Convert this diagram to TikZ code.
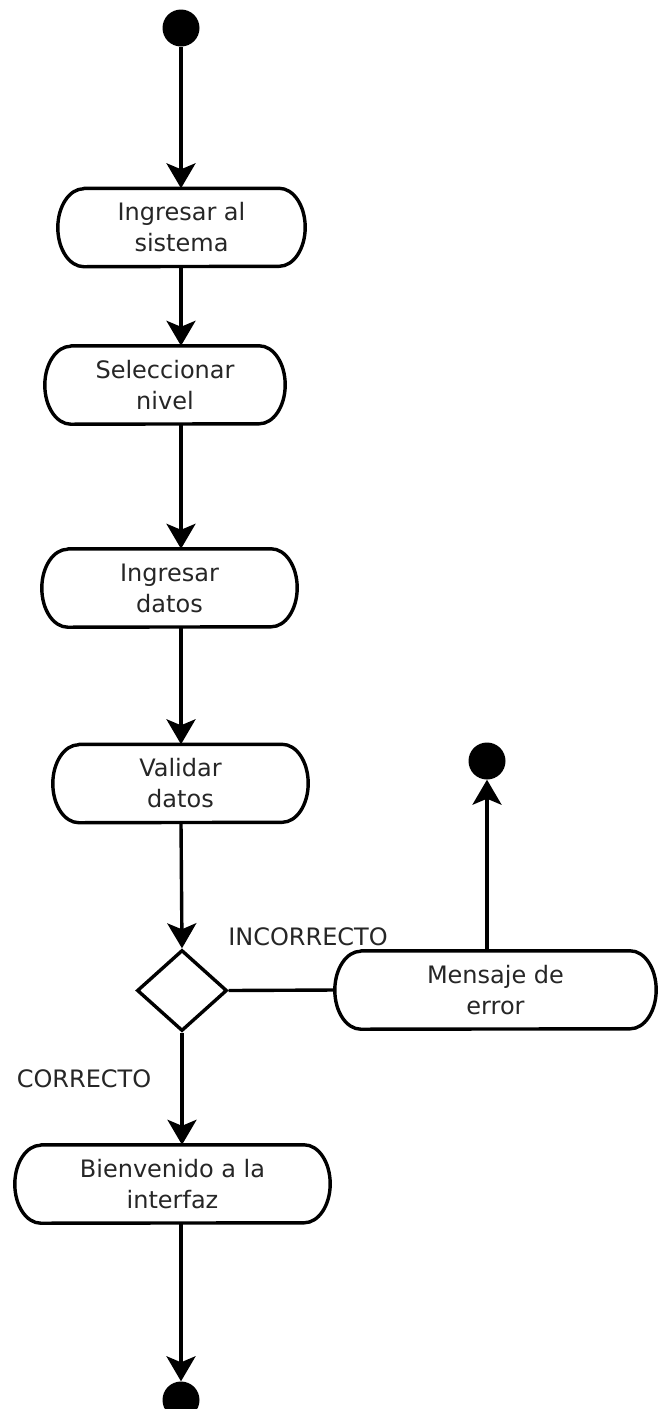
\documentclass[tikz,border=0pt]{standalone}
\usepackage{fontspec}
\setmainfont{DejaVu Sans}
\usetikzlibrary{arrows.meta,shapes.geometric}

\tikzset{
  activity/.style={rectangle, draw=none, align=center, inner sep=0pt,
    minimum height=78pt, font=\fontsize{24}{31}\selectfont, text=black!85},
  outline/.style={line width=3.4pt, line join=round},
  flow/.style={line width=3.4pt, -{Stealth[length=25pt,width=29pt,inset=6pt]}},
  link/.style={line width=3.4pt},
  state/.style={circle, fill=black, inner sep=0pt, minimum size=37pt},
  decision/.style={diamond, draw, line width=3.4pt, inner sep=0pt,
    minimum width=90pt, minimum height=81pt},
  guard/.style={font=\fontsize{24}{31}\selectfont, text=black!85, inner sep=0pt},
}

% flat-topped activity outline with elliptical ends
\newcommand\capsule[1]{%
  \draw[outline] ([xshift=26pt]#1.north west) -- ([xshift=-26pt]#1.north east)
    arc[start angle=90, end angle=-90, x radius=26pt, y radius=39pt]
    -- ([xshift=26pt]#1.south west)
    arc[start angle=270, end angle=90, x radius=26pt, y radius=39pt] -- cycle;}

\begin{document}
\begin{tikzpicture}[x=1pt,y=-1pt]
  \fill[white] (0,0) rectangle (657,1409);
  \useasboundingbox (0,0) rectangle (657,1409);

  % states and activities
  \node[state] (start) at (181,28) {};
  \node[activity, minimum width=247pt] (n1) at (181.5,227.5) {Ingresar al\\sistema};
  \node[activity, minimum width=240pt] (n2) at (165,385) {Seleccionar\\nivel};
  \node[activity, minimum width=255pt] (n3) at (169.5,588) {Ingresar\\datos};
  \node[activity, minimum width=255pt] (n4) at (180.5,783.5) {Validar\\datos};
  \node[decision] (dec) at (182,990.5) {};
  \node[activity, minimum width=321pt] (msg) at (495.5,990) {Mensaje de\\error};
  \node[activity, minimum width=315pt] (n5) at (172.5,1184) {Bienvenido a la\\interfaz};
  \node[state] (end1) at (487,761) {};
  \node[state] (end2) at (181,1400) {};

  \capsule{n1}
  \capsule{n2}
  \capsule{n3}
  \capsule{n4}
  \capsule{msg}
  \capsule{n5}

  % guard labels
  \node[guard] (incorrecto) at (308,937) {INCORRECTO};
  \node[guard] (correcto) at (84,1079) {CORRECTO};

  % control flow
  \draw[flow] (start.south) -- (n1.north -| start);
  \draw[flow] (n1.south -| start) -- (n2.north -| start);
  \draw[flow] (n2.south -| start) -- (n3.north -| start);
  \draw[flow] (n3.south -| start) -- (n4.north -| start);
  \draw[flow] (n4.south -| start) -- (dec.north);
  \draw[link] (dec.east) -- (msg.west);
  \draw[flow] (msg.north -| end1) -- (end1.south);
  \draw[flow] (dec.south) -- (n5.north -| dec);
  \draw[flow] (n5.south -| start) -- (end2.north);
\end{tikzpicture}
\end{document}
